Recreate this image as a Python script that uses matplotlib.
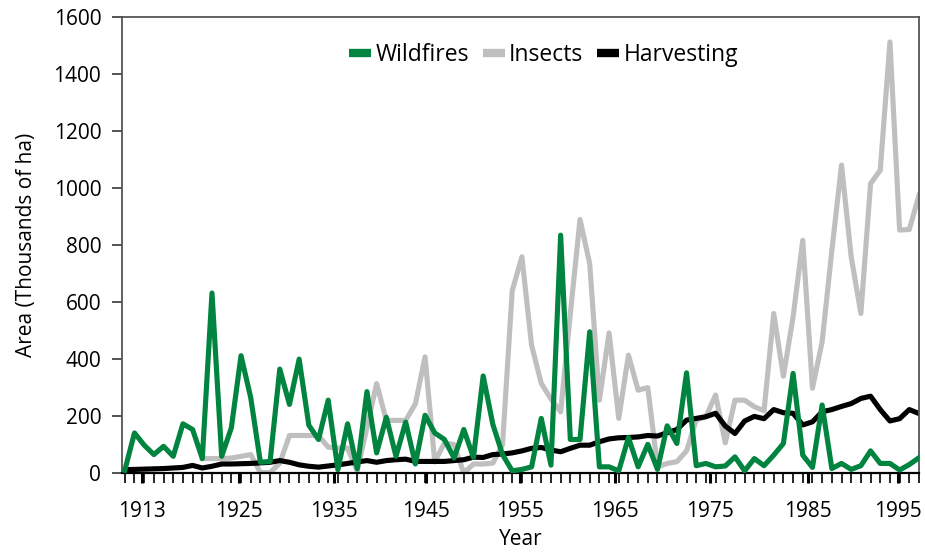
import numpy as np
import matplotlib.pyplot as plt
from matplotlib.ticker import FixedLocator

plt.rcParams['font.family'] = ['Open Sans', 'DejaVu Sans']

# 연도 (1913 ~ 1995)
years = np.arange(1913, 1996)

# 산불 피해 면적 (천 ha)
wildfires = [10, 141, 98, 65, 94, 59, 173, 153, 51, 632,
             59, 159, 412, 265, 38, 41, 365, 241, 400, 168,
             118, 256, 12, 173, 15, 286, 71, 196, 59, 179,
             32, 203, 141, 118, 53, 153, 55, 341, 171, 65,
             8, 13, 22, 192, 28, 835, 118, 118, 496, 22,
             22, 8, 125, 22, 101, 13, 166, 104, 352, 26,
             34, 22, 25, 57, 8, 51, 26, 63, 104, 350,
             63, 20, 239, 16, 34, 13, 26, 78, 34, 34,
             11, 30, 54]

# 곤충 피해 면적 (1921년 이전 자료 없음)
insects = [None] * 8 + [
             51, 51, 51, 53, 59, 65, 2, 2, 35, 132,
             132, 132, 132, 91, 88, 88, 8, 160, 314, 185,
             185, 185, 243, 408, 39, 106, 100, 0, 32, 32,
             35, 100, 640, 759, 449, 315, 260, 215, 560, 890,
             735, 256, 492, 192, 414, 291, 300, 22, 34, 40,
             78, 186, 198, 274, 106, 256, 256, 233, 219, 560,
             340, 548, 817, 298, 461, 780, 1081, 759, 560, 1016,
             1063, 1513, 853, 855, 975]
insects = np.array([np.nan if v is None else v for v in insects], dtype=float)

# 벌채 면적
harvesting = [12, 13, 14, 15, 16, 18, 20, 27, 18, 24,
              32, 32, 33, 34, 36, 38, 44, 38, 29, 24,
              21, 25, 29, 34, 39, 44, 38, 44, 47, 49,
              41, 41, 41, 41, 44, 47, 56, 55, 65, 67,
              71, 78, 87, 90, 81, 75, 87, 98, 98, 110,
              120, 124, 125, 127, 132, 130, 142, 153, 186, 192,
              198, 210, 165, 139, 183, 199, 191, 223, 212, 210,
              169, 180, 215, 223, 234, 244, 262, 270, 223, 183,
              191, 223, 209]

# 눈금 라벨 (원본 그림의 라벨 위치)
tick_labels = ['1913', '1925', '1935', '1945', '1955', '1965', '1975', '1985', '1995']
tick_pos = [1914.8, 1924.8, 1934.6, 1944.1, 1953.8, 1963.6, 1973.4, 1983.5, 1992.8]

green = '#00843f'
grey = '#bfbfbf'

fig = plt.figure(figsize=(9.25, 5.54), dpi=100)
ax = fig.add_axes([0.132, 0.146, 0.8615, 0.823])

ax.plot(years, wildfires, color=green, lw=3.7, label='Wildfires', zorder=3)
ax.plot(years, insects, color=grey, lw=3.7, label='Insects', zorder=1)
ax.plot(years, harvesting, color='black', lw=3.7, label='Harvesting', zorder=2)

ax.set_xlim(1912.72, 1995)
ax.set_ylim(0, 1600)
ax.set_yticks(np.arange(0, 1601, 200))

ax.xaxis.set_major_locator(FixedLocator(tick_pos))
ax.set_xticklabels(tick_labels)
ax.xaxis.set_minor_locator(FixedLocator(years))
ax.tick_params(axis='x', which='both', direction='out', length=7, width=1.2, color='black',
               labelsize=15, pad=13)
ax.tick_params(axis='x', which='major', width=2.2, length=7)
ax.tick_params(axis='y', direction='out', length=7, width=1.3, color='#444444', labelsize=15, pad=8)

for s in ['top', 'right', 'left']:
    ax.spines[s].set_color('#555555')
    ax.spines[s].set_linewidth(1.3)
ax.spines['bottom'].set_color('black')
ax.spines['bottom'].set_linewidth(1.6)

ax.set_xlabel('Year', fontsize=15, labelpad=5)
ax.set_ylabel('Area (Thousands of ha)', fontsize=15, labelpad=12)

leg = ax.legend(loc='center', bbox_to_anchor=(0.529, 0.918), ncol=3, frameon=False,
                fontsize=16.5, handlelength=0.95, handletextpad=0.2, columnspacing=0.6)
for h in leg.legend_handles:
    h.set_linewidth(6)
    h.set_solid_capstyle('butt')

fig.savefig('out.png', dpi=100)
